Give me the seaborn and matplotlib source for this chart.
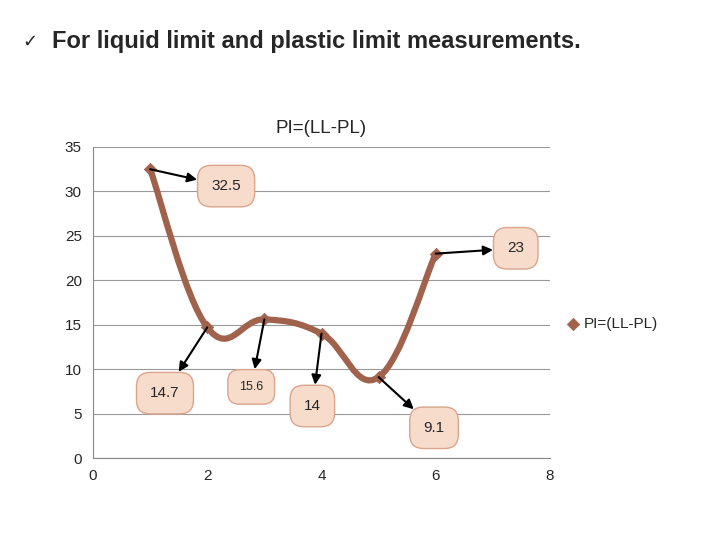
import numpy as np
import matplotlib
matplotlib.use('Agg')
import matplotlib.pyplot as plt
import seaborn as sns
from matplotlib.path import Path
from matplotlib.patches import PathPatch

sns.set_style('white')
plt.rcParams['font.family'] = ['Liberation Sans', 'DejaVu Sans']

# data
x_vals = [1, 2, 3, 4, 5, 6]
pi_vals = [32.5, 14.7, 15.6, 14.0, 9.1, 23.0]
labels = ['32.5', '14.7', '15.6', '14', '9.1', '23']
label_pos = [(2.33, 30.6), (1.26, 7.3), (2.77, 8.0), (3.84, 5.85), (5.97, 3.4), (7.4, 23.6)]
label_sizes = [11, 11, 9, 11, 11, 11]

BROWN = '#A0624D'

fig = plt.figure(figsize=(7.2, 5.4), dpi=100)
ax = fig.add_axes([93 / 720, 1 - 458 / 540, (550 - 93) / 720, (458 - 147) / 540])

# smoothed line (Catmull-Rom as cubic bezier, Excel style)
pts = np.column_stack([x_vals, pi_vals]).astype(float)
verts = [tuple(pts[0])]
codes = [Path.MOVETO]
for i in range(len(pts) - 1):
    p0 = pts[i - 1] if i > 0 else pts[i]
    p1, p2 = pts[i], pts[i + 1]
    p3 = pts[i + 2] if i + 2 < len(pts) else pts[i + 1]
    c1 = p1 + (p2 - p0) / 5
    c2 = p2 - (p3 - p1) / 5
    verts += [tuple(c1), tuple(c2), tuple(p2)]
    codes += [Path.CURVE4] * 3
ax.add_patch(PathPatch(Path(verts, codes), fill=False, edgecolor=BROWN, lw=4.5,
                       capstyle='round', zorder=3))

sns.scatterplot(x=x_vals, y=pi_vals, marker='D', s=40, color=BROWN, edgecolor=BROWN,
                ax=ax, zorder=4, label='PI=(LL-PL)')

for (xv, yv, txt, pos, fs) in zip(x_vals, pi_vals, labels, label_pos, label_sizes):
    ax.annotate(txt, xy=(xv, yv), xytext=pos, ha='center', va='center', fontsize=fs,
                bbox=dict(boxstyle='round,pad=0.9', fc='#F7DCCB', ec='#D9A58C', lw=1),
                arrowprops=dict(arrowstyle='<|-', color='black', lw=1.5,
                                shrinkA=0, shrinkB=0, mutation_scale=14), zorder=5)

ax.set_xlim(0, 8)
ax.set_ylim(0, 35)
ax.set_xticks([0, 2, 4, 6, 8])
ax.set_yticks(range(0, 36, 5))
ax.tick_params(labelsize=11, length=0, pad=8)
ax.grid(axis='y', color='#999999', lw=0.8)
for side in ['top', 'right']:
    ax.spines[side].set_visible(False)
for side in ['left', 'bottom']:
    ax.spines[side].set_color('#888888')

ax.set_title('PI=(LL-PL)', fontsize=13.5, pad=10)
ax.legend(loc='center left', bbox_to_anchor=(1.0, 0.43), frameon=False,
          fontsize=11, handletextpad=0.1, handlelength=1.2)

fig.text(22 / 720, 1 - 42 / 540, '\u2713', fontsize=13, va='center', family='DejaVu Sans')
fig.text(52 / 720, 1 - 42 / 540, 'For liquid limit and plastic limit measurements.',
         fontsize=17, fontweight='bold', va='center')

fig.savefig('out.png', dpi=100)
